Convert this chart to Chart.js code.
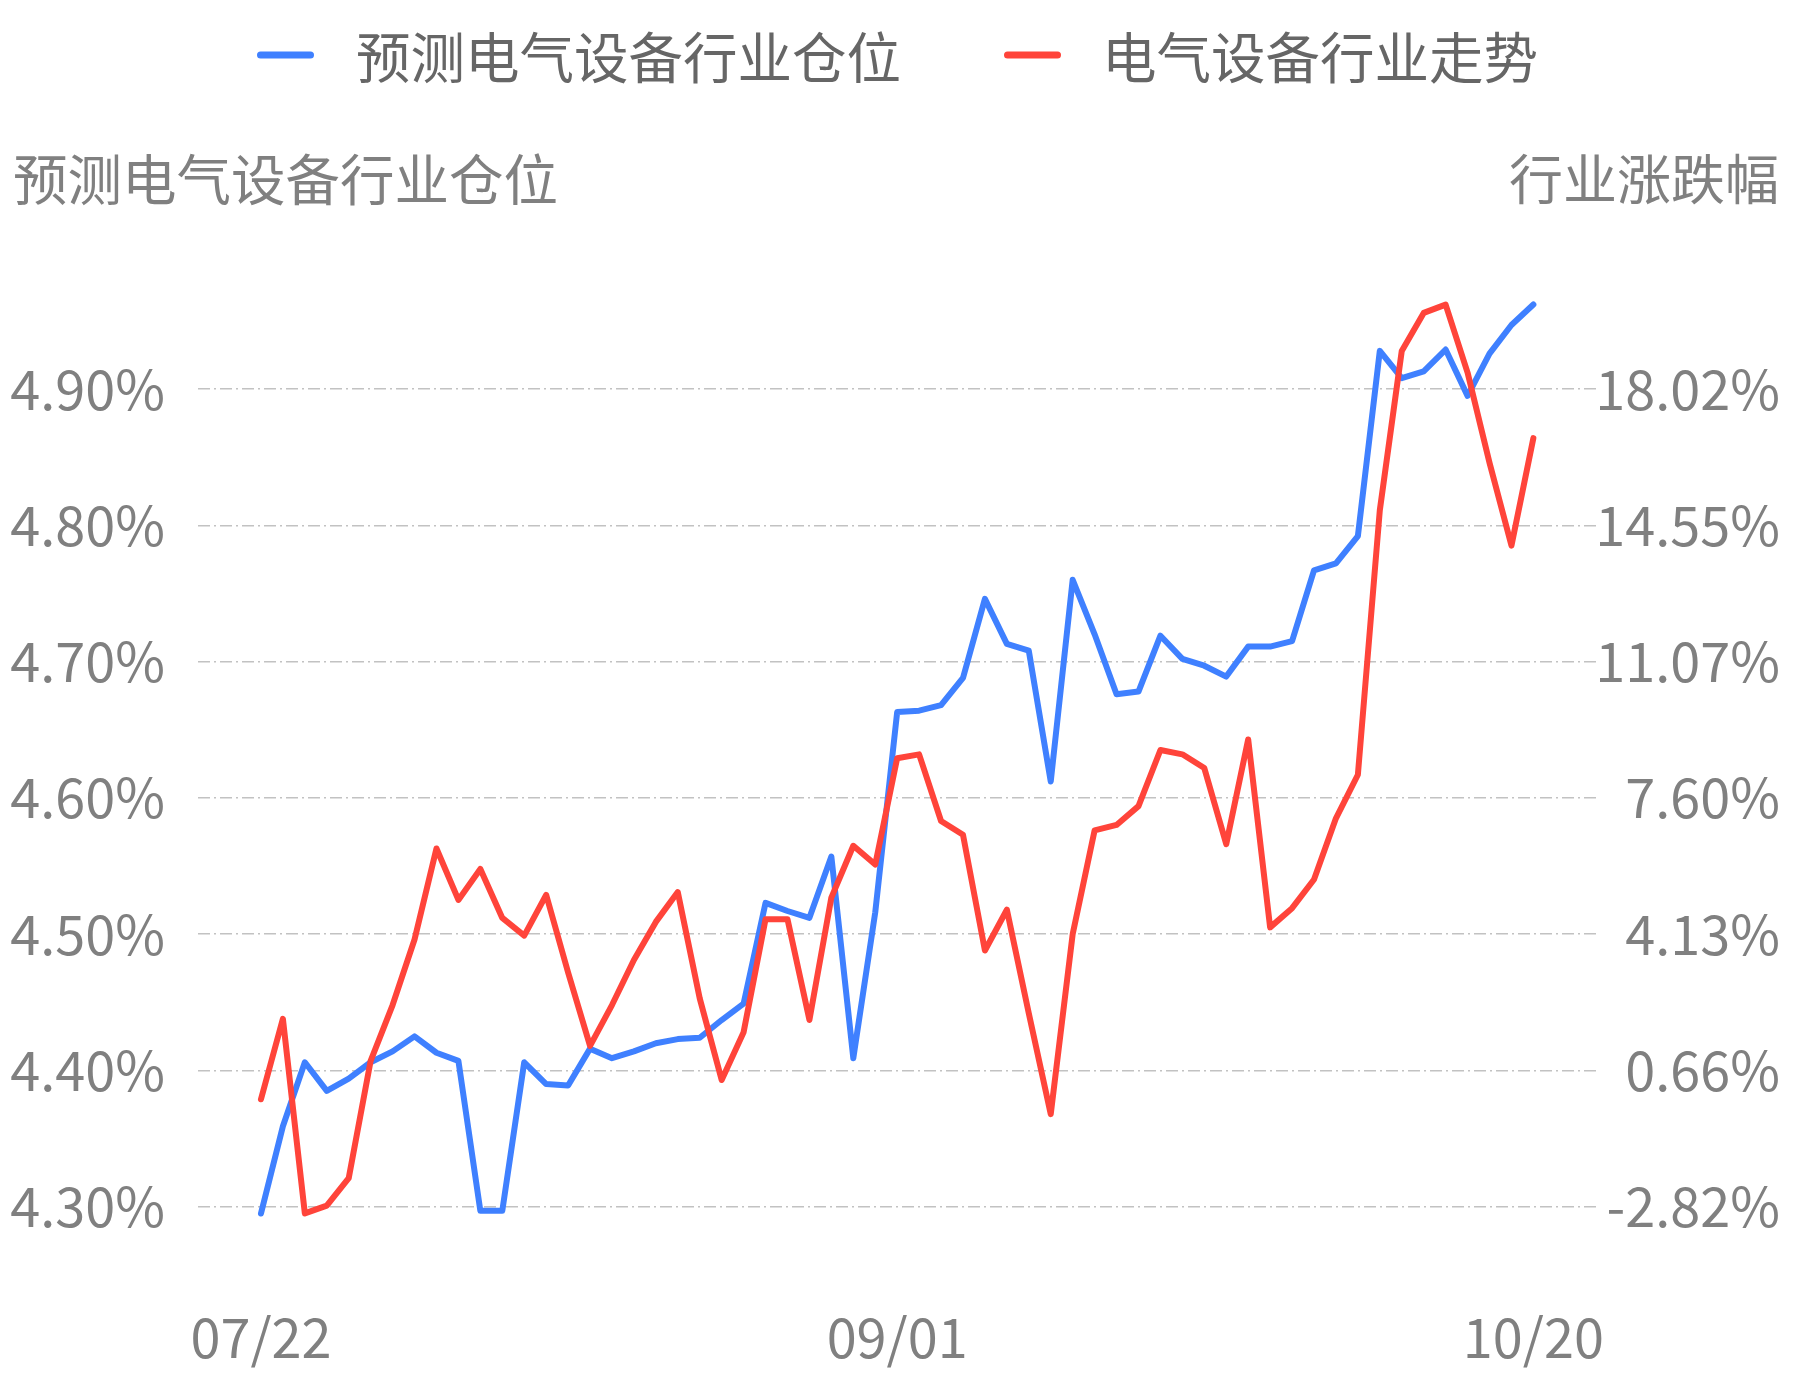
<!DOCTYPE html>
<html>
<head>
<meta charset="utf-8">
<script src="https://cdn.jsdelivr.net/npm/chart.js@4.4.1/dist/chart.umd.min.js"></script>
<style>
  html, body { margin: 0; padding: 0; background: #fff; }
  canvas { display: block; }
</style>
</head>
<body>
<canvas id="myChart" width="1793" height="1380"></canvas>
<script>
// x axis: only three dates are labelled, at these point indices
const dateLabels = ['07/22', '09/01', '10/20']
const labelIndex = [0, 29, 58]

// left axis ticks (%), right axis ticks (%)
const leftTicks = [4.30, 4.40, 4.50, 4.60, 4.70, 4.80, 4.90]
const rightTicks = [-2.82, 0.66, 4.13, 7.60, 11.07, 14.55, 18.02]

// 预测电气设备行业仓位 (%)
const position = [
  4.295, 4.359, 4.406, 4.385, 4.394, 4.406, 4.414, 4.425, 4.413, 4.407,
  4.297, 4.297, 4.406, 4.390, 4.389, 4.416, 4.409, 4.414, 4.420, 4.423,
  4.424, 4.437, 4.449, 4.523, 4.517, 4.512, 4.557, 4.409, 4.516, 4.663,
  4.664, 4.668, 4.688, 4.746, 4.713, 4.708, 4.612, 4.760, 4.720, 4.676,
  4.678, 4.719, 4.702, 4.697, 4.689, 4.711, 4.711, 4.715, 4.767, 4.772,
  4.792, 4.928, 4.908, 4.913, 4.929, 4.895, 4.926, 4.947, 4.962
]

// 电气设备行业走势 (%)
const trend = [
  -0.08, 1.97, -2.99, -2.79, -2.09, 0.90, 2.32, 3.99, 6.31, 5.00,
  5.79, 4.54, 4.09, 5.13, 3.15, 1.28, 2.32, 3.47, 4.44, 5.20,
  2.49, 0.41, 1.63, 4.51, 4.51, 1.94, 5.06, 6.38, 5.90, 8.61,
  8.71, 7.01, 6.66, 3.71, 4.75, 2.11, -0.46, 4.13, 6.77, 6.91,
  7.39, 8.82, 8.71, 8.36, 6.42, 9.09, 4.30, 4.79, 5.52, 7.08,
  8.19, 14.93, 18.99, 19.96, 20.17, 18.44, 16.14, 14.03, 16.77
]

const leftMin = 4.28
const leftMax = 4.98
// right axis mapped so that -2.82 sits on 4.30 and 18.02 on 4.90
const toRight = v => rightTicks[0] + (v - leftTicks[0]) / (leftTicks[6] - leftTicks[0]) * (rightTicks[6] - rightTicks[0])

const font = '"Noto Sans CJK SC", "Noto Sans", sans-serif'
const textGrey = '#808080'
const gridDash = [12, 4, 2, 4]

const chartDecor = {
  id: 'chartDecor',
  afterDraw(chart) {
    const ctx = chart.ctx
    ctx.save()
    // legend
    const items = [
      { x: 257, tx: 356 },
      { x: 1004, tx: 1102 }
    ]
    chart.data.datasets.forEach((ds, i) => {
      const it = items[i]
      ctx.strokeStyle = ds.borderColor
      ctx.lineWidth = 7
      ctx.lineCap = 'round'
      ctx.beginPath()
      ctx.moveTo(it.x + 3.5, 55)
      ctx.lineTo(it.x + 53.5, 55)
      ctx.stroke()
      ctx.fillStyle = '#666666'
      ctx.font = '54.5px ' + font
      ctx.textAlign = 'left'
      ctx.textBaseline = 'middle'
      ctx.fillText(ds.label, it.tx, 57)
    })
    // axis names
    ctx.fillStyle = textGrey
    ctx.textBaseline = 'middle'
    ctx.textAlign = 'left'
    ctx.font = '54.5px ' + font
    ctx.fillText('预测电气设备行业仓位', 13, 179)
    ctx.textAlign = 'right'
    ctx.font = '54px ' + font
    ctx.fillText('行业涨跌幅', 1779, 179)
    ctx.restore()
  }
}

let myChart = document.getElementById('myChart').getContext('2d')
const data = {
  datasets: [{
    label: '预测电气设备行业仓位',
    data: position.map((v, i) => ({ x: i, y: v })),
    borderColor: '#3f80ff',
    backgroundColor: '#3f80ff',
    borderWidth: 6,
    pointRadius: 0,
    borderJoinStyle: 'round',
    borderCapStyle: 'round',
    yAxisID: 'y',
    order: 2
  }, {
    label: '电气设备行业走势',
    data: trend.map((v, i) => ({ x: i, y: v })),
    borderColor: '#ff443a',
    backgroundColor: '#ff443a',
    borderWidth: 6,
    pointRadius: 0,
    borderJoinStyle: 'round',
    borderCapStyle: 'round',
    yAxisID: 'y1',
    order: 1
  }]
}

let posChart = new Chart(myChart, {
  type: 'line',
  data: data,
  options: {
    responsive: false,
    animation: false,
    devicePixelRatio: 1,
    layout: {
      padding: { top: 280, right: 13, bottom: 0, left: 0 }
    },
    plugins: {
      legend: { display: false },
      tooltip: { enabled: false }
    },
    scales: {
      x: {
        type: 'linear',
        min: -2.87,
        max: 60.9,
        afterBuildTicks: axis => { axis.ticks = labelIndex.map(v => ({ value: v })) },
        afterFit: axis => { axis.height = 146 },
        grid: { display: false },
        border: { display: false },
        ticks: {
          color: textGrey,
          font: { family: font, size: 54 },
          padding: 63,
          maxRotation: 0,
          autoSkip: false,
          callback: v => dateLabels[labelIndex.indexOf(v)]
        }
      },
      y: {
        position: 'left',
        min: leftMin,
        max: leftMax,
        afterBuildTicks: axis => { axis.ticks = leftTicks.map(v => ({ value: v })) },
        afterFit: axis => { axis.width = 198 },
        border: { display: false, dash: gridDash },
        grid: {
          color: '#c2c2c2',
          lineWidth: 1.6,
          drawTicks: false,
          borderDash: gridDash
        },
        ticks: {
          color: textGrey,
          font: { family: font, size: 54 },
          padding: 33,
          callback: v => v.toFixed(2) + '%'
        }
      },
      y1: {
        position: 'right',
        min: toRight(leftMin),
        max: toRight(leftMax),
        afterBuildTicks: axis => { axis.ticks = rightTicks.map(v => ({ value: v })) },
        afterFit: axis => { axis.width = 183 },
        border: { display: false },
        grid: { display: false, drawTicks: false },
        ticks: {
          color: textGrey,
          font: { family: font, size: 54 },
          padding: 0,
          crossAlign: 'far',
          callback: v => v.toFixed(2) + '%'
        }
      }
    }
  },
  plugins: [chartDecor]
})
</script>
</body>
</html>
